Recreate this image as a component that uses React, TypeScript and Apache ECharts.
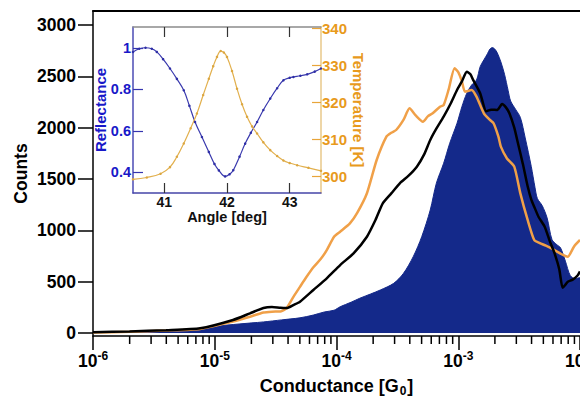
import React, { useEffect, useRef } from "react";
import * as echarts from "echarts";

// ---------- main histogram data (log10 of conductance, counts) ----------
const histLogG = [-6.0, -5.7, -5.4, -5.1, -5.0, -4.8, -4.6, -4.45, -4.3, -4.19, -4.1, -4.02, -3.97, -3.88, -3.81, -3.72, -3.64, -3.53, -3.45, -3.37, -3.3, -3.23, -3.18, -3.12, -3.07, -3.01, -2.97, -2.93, -2.89, -2.85, -2.82, -2.79, -2.76, -2.74, -2.72, -2.7, -2.68, -2.65, -2.62, -2.59, -2.57, -2.53, -2.49, -2.45, -2.4, -2.37, -2.35, -2.31, -2.27, -2.23, -2.19, -2.16, -2.12, -2.08, -2.04, -2.0];
const histCounts = [5, 12, 25, 48, 65, 88, 108, 128, 148, 175, 205, 222, 256, 300, 338, 380, 419, 484, 581, 743, 938, 1198, 1458, 1653, 1848, 2043, 2204, 2335, 2416, 2464, 2594, 2659, 2720, 2765, 2780, 2765, 2730, 2640, 2520, 2360, 2260, 2180, 2100, 1900, 1620, 1420, 1310, 1240, 1120, 910, 860, 830, 700, 560, 530, 540];

const blackLogG = [-6.0, -5.7, -5.4, -5.12, -4.85, -4.71, -4.6, -4.53, -4.46, -4.41, -4.35, -4.3, -4.19, -4.08, -3.97, -3.86, -3.75, -3.68, -3.62, -3.55, -3.48, -3.41, -3.34, -3.28, -3.23, -3.18, -3.12, -3.06, -3.01, -2.97, -2.93, -2.9, -2.88, -2.82, -2.77, -2.73, -2.68, -2.64, -2.61, -2.58, -2.54, -2.51, -2.47, -2.43, -2.4, -2.376, -2.34, -2.29, -2.25, -2.21, -2.17, -2.143, -2.12, -2.1, -2.06, -2.02, -2.0];
const blackCounts = [8, 16, 28, 46, 127, 192, 243, 253, 245, 243, 275, 305, 419, 533, 662, 776, 938, 1100, 1263, 1360, 1458, 1530, 1620, 1740, 1880, 1990, 2107, 2240, 2367, 2450, 2545, 2520, 2470, 2335, 2160, 2175, 2172, 2230, 2200, 2140, 2000, 1850, 1650, 1430, 1300, 1230, 1130, 1035, 900, 780, 620, 440, 470, 500, 520, 560, 600];

const orangeLogG = [-6.0, -5.7, -5.4, -5.12, -4.85, -4.71, -4.6, -4.53, -4.46, -4.41, -4.35, -4.3, -4.25, -4.19, -4.13, -4.08, -4.02, -3.97, -3.89, -3.83, -3.75, -3.67, -3.59, -3.55, -3.51, -3.45, -3.4, -3.35, -3.29, -3.25, -3.21, -3.15, -3.12, -3.08, -3.03, -3.0, -2.97, -2.945, -2.89, -2.85, -2.79, -2.74, -2.71, -2.67, -2.65, -2.6, -2.54, -2.49, -2.43, -2.376, -2.33, -2.28, -2.21, -2.14, -2.1, -2.05, -2.0];
const orangeCounts = [5, 12, 24, 40, 111, 159, 200, 208, 210, 243, 360, 450, 540, 640, 720, 808, 938, 987, 1068, 1170, 1361, 1685, 1912, 1950, 1977, 2075, 2188, 2120, 2058, 2110, 2140, 2204, 2220, 2367, 2578, 2540, 2450, 2350, 2367, 2302, 2140, 2075, 2043, 1912, 1815, 1700, 1620, 1360, 1101, 906, 876, 850, 808, 760, 743, 841, 906];

const countTicks = [0, 500, 1000, 1500, 2000, 2500, 3000];
const minorMantissas = [2, 3, 4, 5, 6, 7, 8, 9];
const minorDecades = [-6, -5, -4, -3];

// ---------- inset data ----------
const angleR = [40.5, 40.6, 40.7, 40.8, 40.88, 40.98, 41.09, 41.2, 41.31, 41.4, 41.49, 41.6, 41.71, 41.8, 41.87, 41.97, 42.04, 42.1, 42.2, 42.29, 42.38, 42.48, 42.58, 42.69, 42.8, 42.9, 43.0, 43.06, 43.17, 43.28, 43.4, 43.5];
const reflectance = [0.98, 0.995, 1.0, 0.995, 0.98, 0.945, 0.9, 0.85, 0.795, 0.72, 0.642, 0.57, 0.498, 0.44, 0.409, 0.38, 0.39, 0.41, 0.475, 0.538, 0.59, 0.642, 0.7, 0.755, 0.805, 0.843, 0.855, 0.859, 0.865, 0.872, 0.885, 0.9];

const angleT = [40.5, 40.72, 40.94, 41.09, 41.2, 41.31, 41.42, 41.52, 41.62, 41.71, 41.78, 41.84, 41.9, 41.95, 42.0, 42.08, 42.16, 42.24, 42.32, 42.4, 42.48, 42.58, 42.69, 42.8, 42.9, 43.0, 43.12, 43.3, 43.5];
const temperature = [299.2, 299.7, 300.7, 302.5, 305.3, 308.9, 313, 317, 322, 326.4, 329.8, 332.3, 333.9, 333.5, 332.3, 328.5, 323.7, 319.5, 316.1, 313.5, 311.6, 309.2, 307.1, 305.5, 304.3, 303.6, 303, 302.3, 301.5];

const angleTicks = [41, 42, 43];
const reflTicks = [0.4, 0.6, 0.8, 1];
const tempTicks = [300, 310, 320, 330, 340];

const FONT = '"Liberation Sans", Arial, Helvetica, sans-serif';
const Y_MIN = -29;
const Y_MAX = 3136;

const toPairs = (lg: number[], c: number[]) => lg.map((v, i) => [Math.pow(10, v), c[i]]);

export default function App() {
  const ref = useRef<HTMLDivElement>(null);
  useEffect(() => {
    if (!ref.current) return;
    const chart = echarts.init(ref.current, null, { renderer: "svg" });
    const minorVals: number[][] = [];
    minorDecades.forEach((d) => minorMantissas.forEach((m) => minorVals.push([m * Math.pow(10, d), Y_MIN])));

    const option: any = {
      animation: false,
      backgroundColor: "#ffffff",
      textStyle: { fontFamily: FONT },
      grid: [
        { left: 93, right: 0, top: 11, bottom: 64, outerBoundsMode: "none", containLabel: false },
        { left: 133, top: 27, width: 188, height: 166, show: true, backgroundColor: "#ffffff", borderWidth: 0, outerBoundsMode: "none", containLabel: false },
      ],
      xAxis: [
        {
          type: "log", gridIndex: 0, logBase: 10, min: 1e-6, max: 1e-2, position: "bottom",
          axisLine: { onZero: false, lineStyle: { color: "#000", width: 1.5 } },
          axisTick: { length: 14, lineStyle: { color: "#000", width: 1.5 } },
          splitLine: { show: false },
          name: "{t|Conductance [G}{sub|0}{t|]}",
          nameLocation: "middle", nameGap: 41, nameMoveOverlap: false,
          nameTextStyle: {
            rich: {
              t: { fontSize: 18, fontWeight: "bold", color: "#000", fontFamily: FONT, lineHeight: 20, verticalAlign: "top" },
              sub: { fontSize: 12, fontWeight: "bold", color: "#000", fontFamily: FONT, lineHeight: 12, verticalAlign: "bottom", padding: [0, 1, 0, 1] },
            },
          },
          axisLabel: {
            margin: 14,
            formatter: (v: number) => `{b|10}{s|${Math.round(Math.log10(v))}}`,
            rich: {
              b: { fontSize: 17.5, fontWeight: "bold", color: "#000", fontFamily: FONT, lineHeight: 20, verticalAlign: "bottom" },
              s: { fontSize: 12, fontWeight: "bold", color: "#000", fontFamily: FONT, lineHeight: 12, verticalAlign: "top" },
            },
          },
        },
        {
          type: "log", gridIndex: 0, logBase: 10, min: 1e-6, max: 1e-2, position: "top",
          axisLine: { onZero: false, lineStyle: { color: "#000", width: 2 } },
          axisTick: { show: false }, axisLabel: { show: false }, splitLine: { show: false },
        },
        {
          type: "value", gridIndex: 1, min: 40.5, max: 43.5, position: "bottom",
          axisLine: { onZero: false, lineStyle: { color: "#4646a8", width: 1.5 } },
          axisTick: { inside: true, length: 10, customValues: angleTicks, lineStyle: { color: "#333", width: 1.2 } },
          axisLabel: { customValues: angleTicks, margin: 2, fontSize: 14, fontWeight: "bold", color: "#111", fontFamily: FONT, lineHeight: 13 },
          splitLine: { show: false },
          name: "Angle [deg]", nameLocation: "middle", nameGap: 16, nameMoveOverlap: false,
          nameTextStyle: { fontSize: 14.5, fontWeight: "bold", color: "#111", fontFamily: FONT, lineHeight: 15 },
        },
        {
          type: "value", gridIndex: 1, min: 40.5, max: 43.5, position: "top",
          axisLine: { onZero: false, lineStyle: { color: "#8c8c8c", width: 1.5 } },
          axisTick: { inside: true, length: 10, customValues: angleTicks, lineStyle: { color: "#333", width: 1.2 } },
          axisLabel: { show: false }, splitLine: { show: false },
        },
      ],
      yAxis: [
        {
          type: "value", gridIndex: 0, min: Y_MIN, max: Y_MAX,
          axisLine: { show: true, onZero: false, lineStyle: { color: "#000", width: 1.5 } },
          axisTick: { show: true, length: 15, customValues: countTicks, lineStyle: { color: "#000", width: 1.5 } },
          axisLabel: {
            customValues: countTicks, margin: 17, fontSize: 17.5, fontWeight: "bold", color: "#000", fontFamily: FONT,
            formatter: (v: number) => String(v),
          },
          splitLine: { show: false },
          name: "Counts", nameLocation: "middle", nameGap: 63, nameMoveOverlap: false,
          nameTextStyle: { fontSize: 17.5, fontWeight: "bold", color: "#000", fontFamily: FONT },
        },
        {
          type: "value", gridIndex: 1, min: 0.3, max: 1.1, position: "left",
          axisLine: { show: true, onZero: false, lineStyle: { color: "#4b4bb4", width: 1.5 } },
          axisTick: { show: true, inside: true, length: 10, customValues: reflTicks, lineStyle: { color: "#3535b0", width: 1.2 } },
          axisLabel: {
            customValues: reflTicks, margin: 2, fontSize: 14.5, fontWeight: "bold", color: "#1818c8", fontFamily: FONT,
            formatter: (v: number) => (v === 1 ? "1" : String(v)),
          },
          splitLine: { show: false },
          name: "Reflectance", nameLocation: "middle", nameGap: 25, nameMoveOverlap: false,
          nameTextStyle: { fontSize: 15, fontWeight: "bold", color: "#1818c8", fontFamily: FONT },
        },
        {
          type: "value", gridIndex: 1, min: 295.5, max: 340.4, position: "right",
          axisLine: { show: true, onZero: false, lineStyle: { color: "#e8c98a", width: 1.5 } },
          axisTick: { show: true, inside: true, length: 9, customValues: tempTicks, lineStyle: { color: "#e8a53a", width: 1.2 } },
          axisLabel: { customValues: tempTicks, margin: 1, fontSize: 15, fontWeight: "bold", color: "#e89a1c", fontFamily: FONT },
          splitLine: { show: false },
          name: "Temperature [K]", nameLocation: "middle", nameGap: 30, nameRotate: -90, nameMoveOverlap: false,
          nameTextStyle: { fontSize: 15, fontWeight: "bold", color: "#e89a1c", fontFamily: FONT },
        },
      ],
      series: [
        {
          type: "line", xAxisIndex: 0, yAxisIndex: 0, data: toPairs(histLogG, histCounts),
          showSymbol: false, smooth: 0.3, lineStyle: { color: "#14298a", width: 1 },
          areaStyle: { color: "#14298a", opacity: 1 }, z: 2,
        },
        {
          type: "line", xAxisIndex: 0, yAxisIndex: 0, data: toPairs(blackLogG, blackCounts),
          showSymbol: false, smooth: 0.2, lineStyle: { color: "#000", width: 2.5 }, z: 4,
        },
        {
          type: "line", xAxisIndex: 0, yAxisIndex: 0, data: toPairs(orangeLogG, orangeCounts),
          showSymbol: false, smooth: 0.2, lineStyle: { color: "#f0a048", width: 2.5 }, z: 3,
        },
        {
          type: "custom", xAxisIndex: 0, yAxisIndex: 0, data: minorVals, silent: true, clip: false,
          renderItem: (params: any, api: any) => {
            const p = api.coord([api.value(0), api.value(1)]);
            return {
              type: "line",
              shape: { x1: p[0], y1: p[1], x2: p[0], y2: p[1] + 8 },
              style: { stroke: "#000", lineWidth: 1.5 },
            };
          },
          z: 5,
        },
        {
          type: "line", xAxisIndex: 2, yAxisIndex: 1, data: angleR.map((a, i) => [a, reflectance[i]]),
          showSymbol: true, symbol: "circle", symbolSize: 2.5, smooth: 0.4,
          itemStyle: { color: "#2e2ea6" }, lineStyle: { color: "#3a3aae", width: 1.2 }, z: 6,
        },
        {
          type: "line", xAxisIndex: 2, yAxisIndex: 2, data: angleT.map((a, i) => [a, temperature[i]]),
          showSymbol: true, symbol: "circle", symbolSize: 2.5, smooth: 0.4,
          itemStyle: { color: "#dba640" }, lineStyle: { color: "#e2b04e", width: 1.2 }, z: 6,
        },
      ],
    };
    chart.setOption(option);
    return () => chart.dispose();
  }, []);
  return <div ref={ref} style={{ width: 580, height: 400, position: "absolute", left: 0, top: 0 }} />;
}
